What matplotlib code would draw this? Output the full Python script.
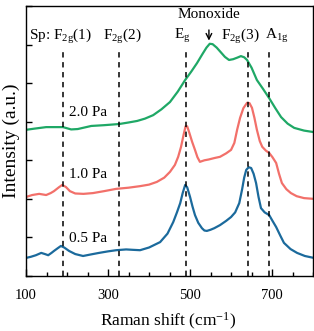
import matplotlib
matplotlib.use("Agg")
import matplotlib.pyplot as plt
from matplotlib.ticker import FixedLocator, MultipleLocator

# Data (Raman shift in cm^-1, intensity in arbitrary offset units)
x_green = [100, 120, 149, 170, 190, 210, 226, 259, 290, 327, 350, 371, 390, 410, 430, 451,
           470, 488, 503, 517, 530, 540, 548, 555, 565, 575, 585, 595, 605, 615, 624, 632,
           639, 650, 663, 678, 693, 708, 722, 738, 754, 778, 802]
y_green = [3.79, 3.82, 3.86, 3.86, 3.86, 3.80, 3.81, 3.89, 3.91, 3.94, 3.98, 4.02, 4.08,
           4.17, 4.32, 4.51, 4.78, 5.08, 5.30, 5.52, 5.75, 5.92, 6.02, 6.01, 5.92, 5.80,
           5.68, 5.60, 5.62, 5.66, 5.70, 5.67, 5.60, 5.40, 5.08, 4.85, 4.61, 4.35, 4.12,
           3.95, 3.84, 3.77, 3.73]

x_red = [100, 115, 132, 149, 160, 168, 180, 188, 197, 207, 220, 240, 263, 290, 320, 350,
         378, 400, 419, 437, 451, 463, 471, 478, 484, 489, 493, 498, 505, 512, 518, 524,
         535, 545, 560, 573, 588, 600, 608, 615, 622, 630, 639, 645, 651, 657, 663, 670,
         676, 685, 693, 701, 710, 717, 724, 735, 746, 760, 778, 802]
y_red = [2.05, 2.10, 2.13, 2.10, 2.15, 2.20, 2.30, 2.36, 2.31, 2.20, 2.14, 2.13, 2.15,
         2.20, 2.26, 2.29, 2.33, 2.37, 2.44, 2.55, 2.70, 2.88, 3.09, 3.35, 3.65, 3.88,
         3.88, 3.72, 3.48, 3.27, 3.08, 2.96, 3.00, 3.02, 3.06, 3.09, 3.18, 3.27, 3.45,
         3.80, 4.10, 4.35, 4.49, 4.48, 4.36, 4.10, 3.79, 3.50, 3.35, 3.25, 3.19, 3.08,
         2.93, 2.65, 2.41, 2.25, 2.15, 2.07, 2.02, 2.00]

x_blue = [100, 112, 124, 137, 146, 154, 162, 168, 177, 185, 193, 205, 220, 239, 258, 278,
          300, 320, 344, 360, 378, 400, 427, 445, 459, 468, 476, 482, 488, 493, 500, 506,
          512, 520, 529, 535, 541, 550, 559, 573, 588, 600, 610, 620, 627, 632, 637, 643,
          649, 655, 661, 667, 673, 682, 693, 700, 710, 720, 729, 745, 761, 780, 802]
y_blue = [0.47, 0.50, 0.54, 0.60, 0.57, 0.54, 0.60, 0.65, 0.72, 0.78, 0.74, 0.65, 0.57,
          0.52, 0.56, 0.60, 0.64, 0.67, 0.69, 0.68, 0.67, 0.74, 0.88, 1.10, 1.40, 1.65,
          1.89, 2.15, 2.36, 2.30, 2.05, 1.80, 1.58, 1.38, 1.24, 1.18, 1.17, 1.20, 1.24,
          1.32, 1.43, 1.53, 1.65, 1.89, 2.25, 2.55, 2.75, 2.82, 2.80, 2.65, 2.41, 2.05,
          1.76, 1.65, 1.58, 1.45, 1.27, 1.05, 0.86, 0.70, 0.60, 0.52, 0.47]

mode_pos = [190, 327, 490, 641, 692]
mode_labels = ["Sp: F$_{2g}$(1)", "F$_{2g}$(2)", "E$_g$", "F$_{2g}$(3)", "A$_{1g}$"]
series_labels = ["2.0 Pa", "1.0 Pa", "0.5 Pa"]
xtick_vals = [100, 300, 500, 700]

plt.rcParams['font.family'] = ['Liberation Serif', 'DejaVu Serif']
plt.rcParams['mathtext.fontset'] = 'custom'
plt.rcParams['mathtext.rm'] = 'Liberation Serif'
plt.rcParams['mathtext.it'] = 'Liberation Serif'

fig = plt.figure(figsize=(3.14, 3.31), dpi=100)
ax = fig.add_axes([0.083, 0.166, 0.914, 0.816])

ax.plot(x_green, y_green, color="#1fa866", lw=1.6)
ax.plot(x_red, y_red, color="#f2706a", lw=1.6)
ax.plot(x_blue, y_blue, color="#1b6a9c", lw=1.6)

for xp in mode_pos:
    ax.plot([xp, xp], [0, 5.86], color="black", lw=1.1, ls=(0, (3.5, 3)))

label_x = [183, 334, 480, 622, 712]
for xl, lab in zip(label_x, mode_labels):
    ax.text(xl, 6.22, lab, ha="center", va="center", fontsize=11)

ax.text(546, 6.77, "Monoxide", ha="center", va="center", fontsize=11)
ax.annotate("", xy=(546, 6.03), xytext=(546, 6.45),
            arrowprops=dict(arrowstyle="->", color="black", lw=1.0))

pa_y = [4.25, 2.62, 0.98]
for yl, lab in zip(pa_y, series_labels):
    ax.text(205, yl, lab, ha="left", va="center", fontsize=11)

ax.set_xlim(100, 800)
ax.set_ylim(0, 7)
ax.xaxis.set_major_locator(FixedLocator(xtick_vals))
ax.xaxis.set_minor_locator(MultipleLocator(50))
ax.yaxis.set_major_locator(MultipleLocator(1))
ax.set_yticklabels([])
ax.tick_params(axis="x", which="major", direction="in", length=5, width=1, labelsize=10.5, pad=9)
ax.tick_params(axis="x", which="minor", direction="in", length=3, width=1)
ax.tick_params(axis="y", which="major", direction="in", length=4, width=1)
for s in ax.spines.values():
    s.set_linewidth(1.0)

fig.text(0.536, 0.028, "Raman shift (cm$^{-1}$)", ha="center", va="center", fontsize=12.5)
fig.text(0.036, 0.574, "Intensity (a.u.)", ha="center", va="center", rotation=90, fontsize=14)

fig.savefig("out.png", dpi=100)
